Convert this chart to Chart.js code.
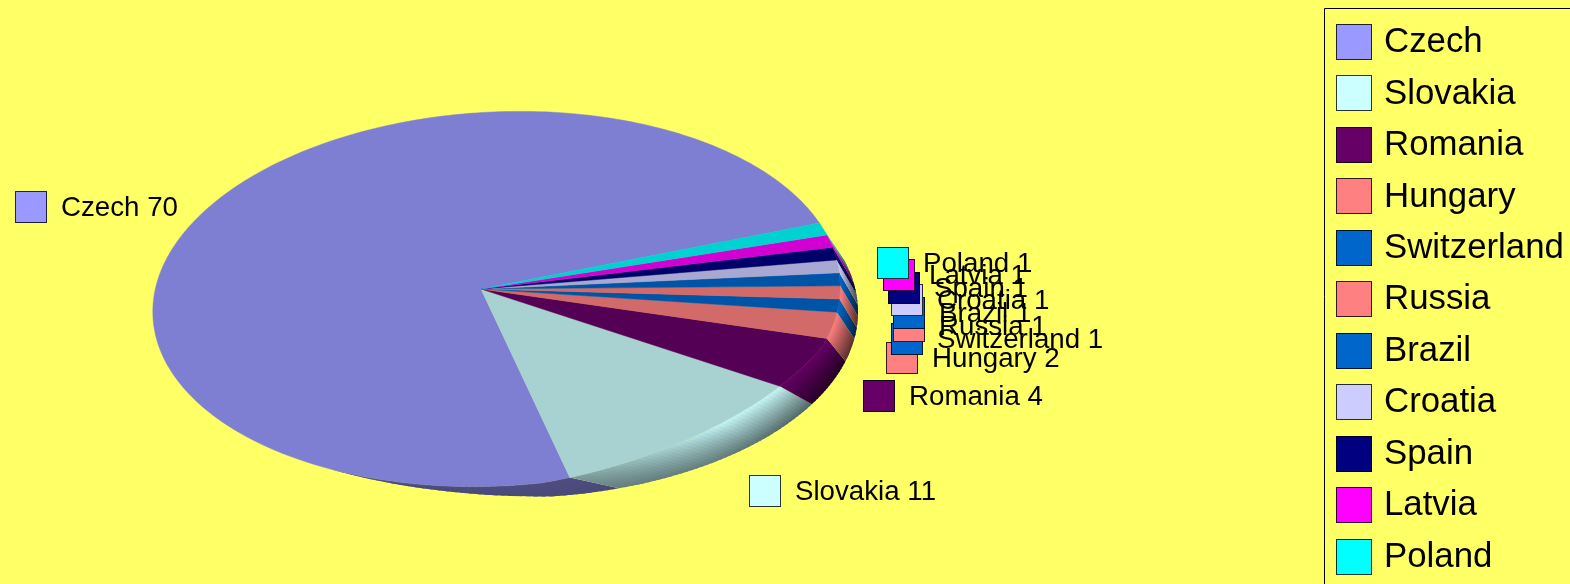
<!DOCTYPE html>
<html>
<head>
<meta charset="utf-8">
<title>Pie</title>
<script src="https://cdn.jsdelivr.net/npm/chart.js@4/dist/chart.umd.js"></script>
<style>
  html, body { margin: 0; padding: 0; background: #ffff66; overflow: hidden; }
  canvas { display: block; }
</style>
</head>
<body>
<canvas id="grafico" width="1570" height="584"></canvas>
<script>
const paises = ['Czech', 'Slovakia', 'Romania', 'Hungary', 'Switzerland', 'Russia', 'Brazil', 'Croatia', 'Spain', 'Latvia', 'Poland'];
const cantidades = [70, 11, 4, 2, 1, 1, 1, 1, 1, 1, 1];
const colores = ['#9999ff', '#ccffff', '#660066', '#ff8080', '#0066cc', '#ff8080', '#0066cc', '#ccccff', '#000080', '#ff00ff', '#00ffff'];

// esquina de la caja de color de cada etiqueta junto al pastel
const cajaEtiquetaX = [15, 749, 863, 886, 891, 893, 893, 891, 888, 883, 877];
const cajaEtiquetaY = [191, 475, 380, 342, 323, 310, 297, 284, 272, 259, 247];

// vista 3D: cara superior, cara inferior y vertice del pastel
const RAD = Math.PI / 180;
const vista = {
  arriba: { x: 496.5, y: 299, a: 344, b: 187, giro: 3 * RAD },
  abajo: { x: 507, y: 312, a: 351, b: 186 },
  vertice: { x: 481, y: 289 },
  inicio: -14.5 * RAD,
  perspectiva: 0.14
};

function impulso(x, y, px, py) {
  const b2 = px * px + py * py;
  if (b2 === 0) return [x, y];
  const g = 1 / Math.sqrt(1 - b2);
  const d = px * x + py * y;
  const t = g * (1 + d);
  const k = (g - 1) / b2 * d + g;
  return [(x + px * k) / t, (y + py * k) / t];
}

const dxV = vista.vertice.x - vista.arriba.x;
const dyV = vista.vertice.y - vista.arriba.y;
const cosG = Math.cos(vista.arriba.giro);
const sinG = Math.sin(vista.arriba.giro);
const vx = (dxV * cosG - dyV * sinG) / vista.arriba.a;
const vy = (dxV * sinG + dyV * cosG) / vista.arriba.b;

function puntoArriba(fi) {
  const [u, v] = impulso(Math.cos(fi), Math.sin(fi), vx, vy);
  const A = u * vista.arriba.a;
  const B = v * vista.arriba.b;
  const x = vista.arriba.x + A * cosG + B * sinG;
  const y = vista.arriba.y - A * sinG + B * cosG;
  // el borde frontal derecho se hunde un poco hacia el vertice
  const m = ((fi / RAD) % 360 + 360) % 360;
  const f = (m > 22 && m < 82) ? 1 - 0.035 * Math.sin((m - 22) / 60 * Math.PI) : 1;
  return [vista.vertice.x + (x - vista.vertice.x) * f, vista.vertice.y + (y - vista.vertice.y) * f];
}

function puntoAbajo(fi) {
  const [u, v] = impulso(Math.cos(fi), Math.sin(fi), vx, vy);
  const [m, n] = impulso(u, v, vista.perspectiva, 0);
  const p = [vista.abajo.x + m * vista.abajo.a, vista.abajo.y + n * vista.abajo.b];
  // hacia la izquierda la cara inferior se esconde bajo la superior
  const g = ((fi / RAD) % 360 + 360) % 360;
  if (g > 88 && g < 270) {
    const t = Math.max(0, 1 - (g - 88) / 30);
    const r = puntoArriba(fi);
    return [r[0] + (p[0] - r[0]) * t, r[1] + (p[1] - r[1]) * t];
  }
  return p;
}

function sombra(hex, f) {
  const n = parseInt(hex.slice(1), 16);
  const r = Math.round(((n >> 16) & 255) * f);
  const g = Math.round(((n >> 8) & 255) * f);
  const b = Math.round((n & 255) * f);
  return `rgb(${r}, ${g}, ${b})`;
}

class Porcion3d extends Chart.ArcElement {
  fiDe(angulo) {
    return vista.inicio - (angulo + Math.PI / 2);
  }

  dibujarLado(ctx) {
    const color = this.options.backgroundColor;
    const fi1 = this.fiDe(this.startAngle);
    const fi2 = this.fiDe(this.endAngle);
    const fondo = this.endAngle - this.startAngle > Math.PI;
    const pasos = Math.max(2, Math.ceil((fi1 - fi2) / RAD));
    for (let i = 0; i < pasos; i++) {
      const a = fi1 + (fi2 - fi1) * i / pasos;
      const b = fi1 + (fi2 - fi1) * (Math.min(i + 1.6, pasos)) / pasos;
      const medio = a / RAD + 360;
      // la porcion grande solo asoma por abajo
      if (fondo && medio > 118) continue;
      const p1 = puntoArriba(a);
      const p2 = puntoArriba(b);
      const q1 = puntoAbajo(a);
      const q2 = puntoAbajo(b);
      const claro = fondo ? 0.5 : (medio > 50 ? 0.98 - (medio - 50) * 0.013 : 0.98);
      const oscuro = fondo ? 0.48 : Math.max(0.34, Math.min(0.5, 0.34 + (medio - 20) * 0.004));
      const grad = ctx.createLinearGradient(p1[0], p1[1], q1[0] + 0.01, q1[1] + 0.01);
      grad.addColorStop(0, sombra(color, claro));
      grad.addColorStop(1, sombra(color, oscuro));
      ctx.fillStyle = grad;
      ctx.beginPath();
      ctx.moveTo(p1[0], p1[1]);
      ctx.lineTo(p2[0], p2[1]);
      ctx.lineTo(q2[0], q2[1]);
      ctx.lineTo(q1[0], q1[1]);
      ctx.closePath();
      ctx.fill();
    }
  }

  draw(ctx) {
    const color = sombra(this.options.backgroundColor, 0.825);
    const fi1 = this.fiDe(this.startAngle);
    const fi2 = this.fiDe(this.endAngle);
    const pasos = Math.max(4, Math.ceil((fi1 - fi2) / RAD));
    ctx.save();
    ctx.fillStyle = color;
    ctx.strokeStyle = color;
    ctx.lineWidth = 0.5;
    ctx.beginPath();
    ctx.moveTo(vista.vertice.x, vista.vertice.y);
    for (let i = 0; i <= pasos; i++) {
      const p = puntoArriba(fi1 + (fi2 - fi1) * i / pasos);
      ctx.lineTo(p[0], p[1]);
    }
    ctx.closePath();
    ctx.fill();
    ctx.stroke();
    ctx.restore();
  }
}
Porcion3d.id = 'porcion3d';
Porcion3d.defaults = Chart.ArcElement.defaults;
Porcion3d.defaultRoutes = Chart.ArcElement.defaultRoutes;

class Pastel3dController extends Chart.PieController {
  draw() {
    const ctx = this.chart.ctx;
    const porciones = this.getMeta().data;
    ctx.save();
    porciones.forEach(p => p.dibujarLado(ctx));
    ctx.restore();
    porciones.forEach(p => p.draw(ctx));
  }
}
Pastel3dController.id = 'pastel3d';
Pastel3dController.defaults = { dataElementType: 'porcion3d' };
Pastel3dController.overrides = Chart.PieController.overrides;

Chart.register(Porcion3d, Pastel3dController);

function caja(ctx, x, y, lado, color) {
  ctx.fillStyle = color;
  ctx.fillRect(x, y, lado, lado);
  ctx.strokeStyle = 'rgba(0, 0, 0, 0.8)';
  ctx.lineWidth = 1;
  ctx.strokeRect(x + 0.5, y + 0.5, lado - 1, lado - 1);
}

const etiquetasPlugin = {
  id: 'etiquetas',
  afterDraw(chart) {
    const ctx = chart.ctx;
    ctx.save();
    ctx.textBaseline = 'middle';
    ctx.textAlign = 'left';

    // etiquetas junto al pastel
    ctx.font = '27.7px "Liberation Sans"';
    paises.forEach((pais, i) => {
      caja(ctx, cajaEtiquetaX[i], cajaEtiquetaY[i], 32, colores[i]);
      ctx.fillStyle = '#000000';
      ctx.fillText(`${pais} ${cantidades[i]}`, cajaEtiquetaX[i] + 46, cajaEtiquetaY[i] + 17.5);
    });

    // leyenda, cortada por el borde de la imagen
    ctx.strokeStyle = '#000000';
    ctx.lineWidth = 1;
    ctx.beginPath();
    ctx.moveTo(1570, 8.5);
    ctx.lineTo(1324.5, 8.5);
    ctx.lineTo(1324.5, 584);
    ctx.stroke();
    ctx.font = '34.8px "Liberation Sans"';
    paises.forEach((pais, i) => {
      const y = 24 + i * 51.47;
      caja(ctx, 1336, Math.round(y), 36, colores[i]);
      ctx.fillStyle = '#000000';
      ctx.fillText(pais, 1384, y + 18.5);
    });
    ctx.restore();
  }
};

new Chart(document.getElementById('grafico'), {
  type: 'pastel3d',
  data: {
    labels: paises,
    datasets: [{
      label: 'Cantidad',
      data: cantidades,
      backgroundColor: colores,
      borderWidth: 0
    }]
  },
  options: {
    responsive: false,
    animation: false,
    plugins: {
      legend: { display: false },
      tooltip: { enabled: false }
    }
  },
  plugins: [etiquetasPlugin]
});
</script>
</body>
</html>
